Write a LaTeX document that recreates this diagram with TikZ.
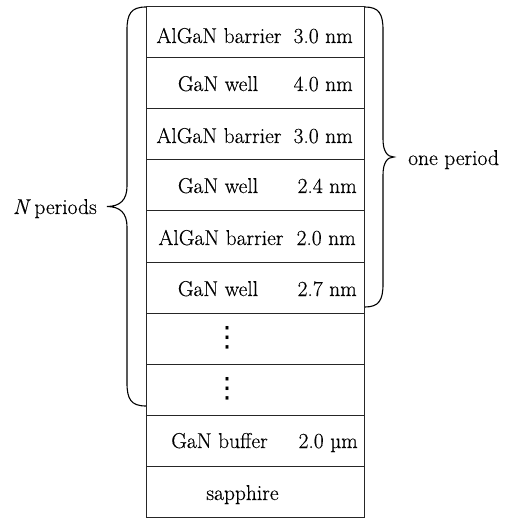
\documentclass[tikz,border=0pt]{standalone}
\usepackage{fontspec}
\setmainfont{Latin Modern Roman}[FakeBold=0.35]
\newfontfamily\dotsfont{DejaVu Sans}
\begin{document}
\begin{tikzpicture}[x=1pt,y=-1pt,
  layer/.style={draw=black!85,line width=1pt,minimum width=218pt,minimum height=51pt,inner sep=0pt},
  txt/.style={font=\fontsize{21.5}{24}\selectfont,inner sep=0pt},
  lbl/.style={txt,anchor=base},
  thk/.style={txt,anchor=base east},
  dotsn/.style={inner sep=0pt,font=\fontsize{28}{30}\dotsfont},
  bracel/.style={draw=black,line width=1.1pt}]
\useasboundingbox (0,0) rectangle (507,518);
\foreach \i in {1,...,10}{
  \node[layer] (r\i) at (255,{7+51*(\i-0.5)}) {};
}
% labels
\node[lbl] (n1) at (219,43) {AlGaN barrier};
\node[thk] (t1) at (353,43) {3.0 nm};
\node[lbl] (n2) at (218,91) {GaN well};
\node[thk] (t2) at (353,91) {4.0 nm};
\node[lbl] (n3) at (219,143) {AlGaN barrier};
\node[thk] (t3) at (353,143) {3.0 nm};
\node[lbl] (n4) at (218,193) {GaN well};
\node[thk] (t4) at (357,193) {2.4 nm};
\node[lbl] (n5) at (221,245) {AlGaN barrier};
\node[thk] (t5) at (356,245) {2.0 nm};
\node[lbl] (n6) at (218,296) {GaN well};
\node[thk] (t6) at (357,296) {2.7 nm};
\node[dotsn] (d1) at (227,338) {⋮};
\node[dotsn] (d2) at (227,389) {⋮};
\node[lbl] (n9) at (219.5,448) {GaN buffer};
\node[thk] (t9) at (358,448) {2.0 µm};
\node[lbl] (n10) at (242.5,500) {sapphire};
% braces
\coordinate (lb1) at (146,7);
\coordinate (lb2) at (146,406);
\coordinate (ltip) at (107,206.5);
\draw[bracel] (lb1) .. controls (131,7) and (127,14) .. (127,30) -- (127,186)
  .. controls (127,200) and (120,206.5) .. (ltip)
  .. controls (120,206.5) and (127,213) .. (127,227) -- (127,383)
  .. controls (127,399) and (131,406) .. (lb2);
\coordinate (rb1) at (365,7);
\coordinate (rb2) at (365,307);
\coordinate (rtip) at (394,157);
\draw[bracel] (rb1) .. controls (379,7) and (383,14) .. (383,30) -- (383,139)
  .. controls (383,151) and (387,157) .. (rtip)
  .. controls (387,157) and (383,163) .. (383,175) -- (383,284)
  .. controls (383,300) and (379,307) .. (rb2);
\node[txt,anchor=base east] (np) at (97,214) {\textit{N}\,periods};
\node[txt,anchor=base west] (op) at (408,165) {one period};
\end{tikzpicture}
\end{document}
